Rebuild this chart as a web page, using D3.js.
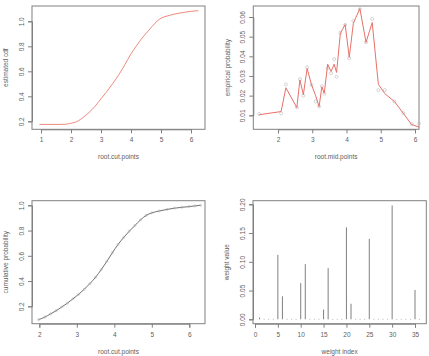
<!DOCTYPE html>
<html>
<head>
<meta charset="utf-8">
<script src="https://cdn.jsdelivr.net/npm/d3@7"></script>
<style>
  body { margin: 0; background: #fff; }
  svg text { font-family: "Liberation Sans", Arial, sans-serif; fill: #606060; }
</style>
</head>
<body>
<svg width="429" height="356"></svg>
<script>
// panel 1: estimated cdf
var cdfX = [0.95,1.2,1.5,1.8,1.95,2.1,2.25,2.4,2.6,2.8,3.0,3.2,3.4,3.6,3.8,4.0,4.2,4.4,4.6,4.8,5.0,5.2,5.4,5.6,5.8,6.0,6.25];
var cdfY = [0.175,0.175,0.175,0.176,0.182,0.19,0.205,0.23,0.27,0.32,0.38,0.44,0.505,0.575,0.655,0.74,0.81,0.875,0.93,0.985,1.025,1.042,1.055,1.065,1.073,1.08,1.085];

// panel 2: empirical probability at mid points
var midX = [1.45,2.09,2.23,2.55,2.64,2.74,2.85,2.98,3.10,3.20,3.28,3.35,3.45,3.55,3.64,3.71,3.82,3.96,4.08,4.20,4.39,4.57,4.75,4.93,5.12,5.40,5.66,5.90,6.12];
var fitP = [0.0103,0.0119,0.0240,0.0139,0.0280,0.0205,0.0338,0.0254,0.0199,0.0144,0.0245,0.0212,0.0360,0.0323,0.0360,0.0318,0.0517,0.0562,0.0395,0.0568,0.0643,0.0471,0.0572,0.0258,0.0210,0.0170,0.0110,0.0053,0.0040];
var empP = [0.0107,0.0110,0.0257,0.0140,0.0284,0.0200,0.0344,0.0254,0.0170,0.0145,0.0248,0.0210,0.0340,0.0314,0.0386,0.0296,0.0520,0.0560,0.0390,0.0580,0.0640,0.0472,0.0590,0.0228,0.0228,0.0170,0.0111,0.0055,0.0058];

// panel 3: cumulative probability
var cumX = [1.98,2.15,2.3,2.45,2.6,2.75,2.9,3.05,3.2,3.35,3.5,3.65,3.8,3.95,4.1,4.25,4.4,4.55,4.7,4.85,5.0,5.2,5.4,5.6,5.8,6.0,6.15,6.3];
var cumY = [0.094,0.115,0.14,0.165,0.195,0.225,0.26,0.295,0.335,0.38,0.43,0.49,0.555,0.625,0.69,0.745,0.795,0.84,0.885,0.92,0.94,0.955,0.967,0.977,0.984,0.99,0.995,1.0];

// panel 4: weights
var weightIdx = d3.range(1, 37);
var weights = [0.003,0,0,0,0.112,0.040,0,0,0,0.063,0.096,0,0,0,0.017,0.089,0,0,0,0.160,0.027,0,0,0,0.140,0,0,0,0,0.198,0,0,0,0,0.051,0];

var svg = d3.select("svg");

function panel(opt) {
  var g = svg.append("g");
  var x = d3.scaleLinear().domain(opt.xd).range(opt.xr);
  var y = d3.scaleLinear().domain(opt.yd).range(opt.yr);
  var b = opt.box;

  var xa = g.append("g").attr("transform", "translate(0," + b[3] + ")")
    .call(d3.axisBottom(x).tickValues(opt.xt).tickSizeOuter(0).tickSize(4).tickFormat(d3.format("d")));
  xa.selectAll("text").attr("y", 8.5).attr("dy", "0.71em").style("font-size", "6.5px");

  var ya = g.append("g").attr("transform", "translate(" + b[0] + ",0)")
    .call(d3.axisLeft(y).tickValues(opt.yt).tickSizeOuter(0).tickSize(4).tickFormat(d3.format(opt.yf)));
  ya.selectAll("text").attr("x", 0).attr("dy", 0)
    .attr("text-anchor", "middle")
    .attr("transform", "translate(-8.5,0) rotate(-90)")
    .style("font-size", "6.5px");
  g.selectAll(".domain, .tick line").attr("stroke", "#808080");

  g.append("rect").attr("x", b[0]).attr("y", b[1])
    .attr("width", b[2] - b[0]).attr("height", b[3] - b[1])
    .attr("fill", "none").attr("stroke", "#808080").attr("stroke-width", 1);

  g.append("text").attr("x", (b[0] + b[2]) / 2).attr("y", b[3] + 29.8)
    .attr("text-anchor", "middle").style("font-size", "6.5px").text(opt.xl);
  g.append("text").attr("transform", "translate(" + (b[0] - 23.7) + "," + ((b[1] + b[3]) / 2) + ") rotate(-90)")
    .attr("text-anchor", "middle").style("font-size", "6.5px").text(opt.yl);

  return { g: g, x: x, y: y };
}

// top-left
var p1 = panel({ box: [32, 6, 205, 129.3], xd: [1, 6], xr: [41, 191], yd: [0.2, 1.0], yr: [121.3, 21.3],
  xt: [1,2,3,4,5,6], yt: [0.2,0.4,0.6,0.8,1.0], yf: ".1f", xl: "root.cut.points", yl: "estimated cdf" });
p1.g.append("path")
  .attr("d", d3.line().x(function(d) { return p1.x(d); }).y(function(d, i) { return p1.y(cdfY[i]); }).curve(d3.curveMonotoneX)(cdfX))
  .attr("fill", "none").attr("stroke", "#ee8a80").attr("stroke-width", 1);

// top-right
var p2 = panel({ box: [253.3, 6, 419, 129.3], xd: [2, 6], xr: [278, 415], yd: [0.01, 0.06], yr: [115.3, 17],
  xt: [2,3,4,5,6], yt: [0.01,0.02,0.03,0.04,0.05,0.06], yf: ".2f", xl: "root.mid.points", yl: "empirical probability" });
p2.g.selectAll("circle").data(midX).enter().append("circle")
  .attr("cx", function(d) { return p2.x(d); })
  .attr("cy", function(d, i) { return p2.y(empP[i]); })
  .attr("r", 1.5).attr("fill", "none").attr("stroke", "#bbb").attr("stroke-width", 0.6);
p2.g.append("path")
  .attr("d", d3.line().x(function(d) { return p2.x(d); }).y(function(d, i) { return p2.y(fitP[i]); })(midX))
  .attr("fill", "none").attr("stroke", "#e8716a").attr("stroke-width", 1);

// bottom-left
var p3 = panel({ box: [32, 200.7, 205, 323.7], xd: [2, 6], xr: [39.3, 189.3], yd: [0.2, 1.0], yr: [306.3, 205.3],
  xt: [2,3,4,5,6], yt: [0.2,0.4,0.6,0.8,1.0], yf: ".1f", xl: "root.cut.points", yl: "cumulative probability" });
p3.g.append("path")
  .attr("d", d3.line().x(function(d) { return p3.x(d); }).y(function(d, i) { return p3.y(cumY[i]); }).curve(d3.curveMonotoneX)(cumX))
  .attr("fill", "none").attr("stroke", "#707070").attr("stroke-width", 1);
p3.g.selectAll("circle").data(cumX).enter().append("circle")
  .attr("cx", function(d) { return p3.x(d); })
  .attr("cy", function(d, i) { return p3.y(cumY[i]); })
  .attr("r", 1.1).attr("fill", "none").attr("stroke", "#aaa").attr("stroke-width", 0.5);

// bottom-right
var p4 = panel({ box: [253, 200.7, 426.3, 323.7], xd: [0, 35], xr: [255, 415], yd: [0, 0.2], yr: [319.3, 204.3],
  xt: [0,5,10,15,20,25,30,35], yt: [0,0.05,0.10,0.15,0.20], yf: ".2f", xl: "weight index", yl: "weight value" });
p4.g.selectAll("line.w").data(weightIdx.filter(function(d, i) { return weights[i] > 0; })).enter().append("line")
  .attr("class", "w")
  .attr("x1", function(d) { return p4.x(d); }).attr("x2", function(d) { return p4.x(d); })
  .attr("y1", p4.y(0)).attr("y2", function(d) { return p4.y(weights[d - 1]); })
  .attr("stroke", "#808080").attr("stroke-width", 1);
p4.g.selectAll("rect.z").data(weightIdx.filter(function(d, i) { return weights[i] === 0; })).enter().append("rect")
  .attr("class", "z")
  .attr("x", function(d) { return p4.x(d) - 0.5; }).attr("y", p4.y(0) - 0.5)
  .attr("width", 1).attr("height", 1).attr("fill", "#bbb");
</script>
</body>
</html>
